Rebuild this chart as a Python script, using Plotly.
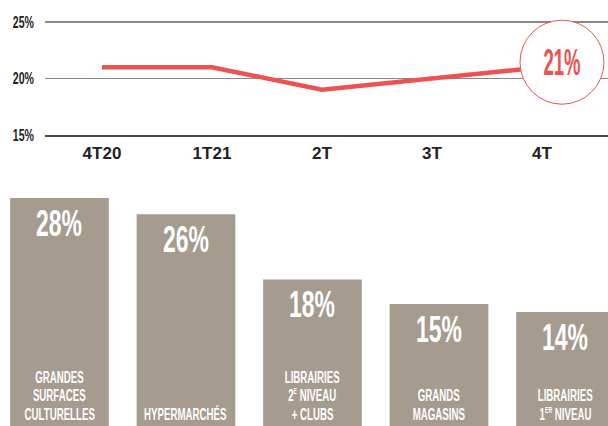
import plotly.graph_objects as go

# ---- data ----
quarters = ["4T20", "1T21", "2T", "3T", "4T"]
quarter_share = [21, 21, 19, 20, 21]

channels = ["GS culturelles", "Hypermarchés", "Librairies 2e niveau + clubs", "Grands magasins", "Librairies 1er niveau"]
channel_labels = [
    "GRANDES<br>SURFACES<br>CULTURELLES",
    "HYPERMARCHÉS",
    "LIBRAIRIES<br>2<sup><span style='font-size:9px'>E</span></sup> NIVEAU<br>+ CLUBS",
    "GRANDS<br>MAGASINS",
    "LIBRAIRIES<br>1<sup><span style='font-size:9px'>ER</span></sup> NIVEAU",
]
channel_share = [28, 26, 18, 15, 14]
y_ticks = [15, 20, 25]

RED = "#EE5250"
TAUPE = "#A59B8F"
FONT = "Liberation Sans, Arial, sans-serif"
LABEL_PITCH = 18.7  # px between label lines

W, H = 608, 426
fig = go.Figure()

fig.add_trace(go.Scatter(
    x=quarters, y=quarter_share, mode="lines",
    line=dict(color=RED, width=4.5),
    xaxis="x", yaxis="y", hoverinfo="skip", showlegend=False,
))

fig.add_trace(go.Bar(
    x=channels, y=channel_share, width=0.78,
    marker=dict(color=TAUPE, line=dict(width=0)),
    xaxis="x2", yaxis="y2", hoverinfo="skip", showlegend=False,
))

annotations = []
annotations.append(dict(
    x=quarters[-1], y=quarter_share[-1], xref="x", yref="y",
    text=f"{quarter_share[-1]}%", showarrow=False,
    xshift=20, yshift=5,
    font=dict(family=FONT, size=37, color=RED, weight="bold"),
))
for c, v, lab in zip(channels, channel_share, channel_labels):
    annotations.append(dict(
        x=c, y=v, xref="x2", yref="y2", text=f"{v}%", showarrow=False,
        yanchor="top", yshift=-3,
        font=dict(family=FONT, size=37, color="white", weight="bold"),
    ))
    lines = lab.split("<br>")
    for k, line in enumerate(reversed(lines)):
        annotations.append(dict(
            x=c, y=0, xref="x2", yref="y2", text=line, showarrow=False,
            yanchor="bottom", yshift=k * LABEL_PITCH,
            font=dict(family=FONT, size=17, color="white", weight="bold"),
        ))

shapes = [dict(
    type="circle", xref="x", yref="y",
    xsizemode="pixel", ysizemode="pixel",
    xanchor=len(quarters) - 1, yanchor=quarter_share[-1],
    x0=-22, x1=62, y0=-37, y1=47,
    fillcolor="white", line=dict(color=RED, width=1), layer="above",
)]

fig.update_layout(
    width=W, height=H,
    margin=dict(l=0, r=0, t=0, b=0, autoexpand=False),
    paper_bgcolor="white", plot_bgcolor="rgba(0,0,0,0)",
    xaxis=dict(
        domain=[45 / W, 1], type="category", range=[-0.518, 4.6],
        showgrid=False, zeroline=False, ticks="", automargin=False,
        showline=True, linecolor="#4a4a4a", linewidth=1.5,
        tickfont=dict(family=FONT, size=17, color="#222", weight="bold"),
        ticklabelstandoff=2, fixedrange=True,
    ),
    yaxis=dict(
        domain=[291 / H, (426 - 18.6) / H], range=[15, 25.3],
        tickvals=y_ticks, ticktext=[f"{v}%" for v in y_ticks],
        showgrid=True, gridcolor="#8a8a8a", gridwidth=1.8, automargin=False,
        zeroline=False, showline=False, ticks="",
        tickfont=dict(family=FONT, size=16, color="#222", weight="bold"),
        ticklabelstandoff=10, fixedrange=True,
    ),
    xaxis2=dict(
        domain=[0, 1], type="category", range=[-0.47, 4.336],
        showgrid=False, zeroline=False, showline=False, automargin=False,
        showticklabels=False, ticks="", anchor="y2",
    ),
    yaxis2=dict(
        domain=[0, 240 / H], range=[0, 240 / 8.14],
        showgrid=False, zeroline=False, showline=False, automargin=False,
        showticklabels=False, ticks="", anchor="x2",
    ),
    annotations=annotations,
    shapes=shapes,
)

# The reference uses a very condensed typeface; none is installed, so the
# real text is narrowed horizontally in place after drawing.
post = """
document.body.style.margin='0';
(function(){
  var gd = document.getElementById('{plot_id}');
  var annScale = {'37px':0.62, '17px':0.57};
  function sq(t, s, mode){
    if (t.getAttribute('data-sq')) return;
    var b = t.getBBox();
    var ax = mode === 'end' ? b.x + b.width : b.x + b.width / 2;
    var prev = t.getAttribute('transform') || '';
    t.setAttribute('transform', prev + ' translate(' + (ax * (1 - s)) + ',0) scale(' + s + ',1)');
    t.setAttribute('data-sq', '1');
  }
  function run(){
    gd.querySelectorAll('text.annotation-text').forEach(function(t){
      var s = annScale[t.style.fontSize];
      if (t.style.fill && t.style.fill.indexOf('238') >= 0) s = 0.5;
      if (s) sq(t, s, 'mid');
    });
    gd.querySelectorAll('g.ytick text').forEach(function(t){ sq(t, 0.66, 'end'); });
  }
  run();
  if (gd.on) gd.on('plotly_afterplot', run);
})();
"""

fig.write_html("out.html", post_script=post, config={"displayModeBar": False, "staticPlot": True})
